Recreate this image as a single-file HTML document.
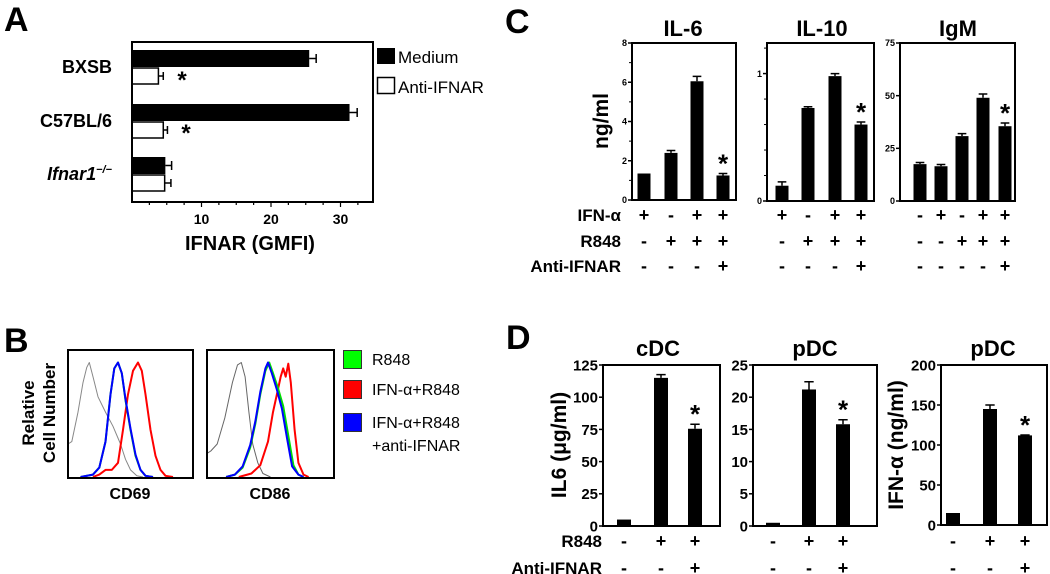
<!DOCTYPE html>
<html><head><meta charset="utf-8">
<style>
html,body{margin:0;padding:0;background:#fff;}
svg{display:block;font-family:"Liberation Sans",Arial,sans-serif;}
</style></head>
<body>
<svg id="fig" width="1050" height="574" viewBox="0 0 1050 574" xmlns="http://www.w3.org/2000/svg">
<g font-weight="bold" font-size="34">
<text x="4" y="31">A</text>
<text x="4" y="352">B</text>
<text x="505" y="33">C</text>
<text x="506" y="349">D</text>
</g>
</svg>
<script>
// ---------- Panel A data ----------
const aCategories = ["BXSB", "C57BL/6", "Ifnar1"];
const aMedium = [25.5, 31.3, 4.8];
const aMediumErr = [1.0, 1.1, 0.9];
const aAnti = [3.8, 4.5, 4.7];
const aAntiErr = [0.7, 0.6, 0.9];
const aTicks = [10, 20, 30];
// ---------- Panel B data (normalized x %, y %) ----------
const bGrey1 = [[0,0],[0,28],[3,30],[8,55],[12,80],[15,93],[17,97],[20,85],[24,68],[30,55],[36,43],[42,28],[46,15],[50,6],[55,1],[60,0]];
const bGreen1 = [[10,0],[20,2],[25,8],[30,30],[34,70],[37,92],[40,97],[43,88],[46,65],[50,40],[54,18],[58,6],[62,1],[68,0]];
const bBlue1 = [[10,0],[20,2],[25,8],[30,30],[34,70],[37,92],[40,97],[43,88],[46,66],[50,41],[54,19],[58,6],[62,1],[68,0]];
const bRed1 = [[20,0],[25,2],[30,6],[35,6],[40,12],[44,40],[48,70],[52,90],[56,97],[59,90],[62,70],[66,40],[70,18],[74,6],[78,1],[84,0]];
const bGrey2 = [[0,0],[0,20],[3,22],[8,28],[14,50],[20,80],[24,95],[27,97],[30,85],[33,55],[36,28],[40,12],[44,3],[50,0]];
const bGreen2 = [[15,0],[22,2],[28,8],[34,25],[38,45],[42,70],[46,90],[49,97],[52,88],[56,75],[60,60],[64,35],[68,10],[72,2],[76,0]];
const bBlue2 = [[15,0],[22,2],[28,9],[34,27],[38,47],[42,72],[46,92],[48,97],[51,88],[55,74],[59,58],[63,33],[67,9],[72,2],[76,0]];
const bRed2 = [[25,0],[35,3],[42,10],[48,30],[52,55],[55,70],[58,85],[60,92],[62,85],[64,96],[66,80],[69,40],[72,12],[76,2],[80,0]];
// ---------- Panel C data ----------
const cIL6 = [1.35, 2.4, 6.05, 1.25];
const cIL6Err = [0, 0.12, 0.25, 0.1];
const cIL6Ticks = [0, 2, 4, 6, 8];
const cIL10 = [0.12, 0.73, 0.98, 0.6];
const cIL10Err = [0.03, 0.01, 0.02, 0.02];
const cIL10Ticks = [0, 1];
const cIgM = [17.5, 16.5, 30.8, 49, 35.5];
const cIgMErr = [0.8, 0.8, 1.2, 1.8, 1.5];
const cIgMTicks = [0, 25, 50, 75];
// ---------- Panel D data ----------
const dCDC = [5, 115, 75.5];
const dCDCErr = [0, 2.5, 3.5];
const dCDCTicks = [0, 25, 50, 75, 100, 125];
const dPDC = [0.5, 21.2, 15.8];
const dPDCErr = [0, 1.2, 0.7];
const dPDCTicks = [0, 5, 10, 15, 20, 25];
const dIFN = [15, 145, 112];
const dIFNErr = [0, 5, 0.5];
const dIFNTicks = [0, 50, 100, 150, 200];

const NS = "http://www.w3.org/2000/svg";
const svg = document.getElementById("fig");
function mk(tag, attrs, parent, txt) {
  const e = document.createElementNS(NS, tag);
  for (const k in attrs) e.setAttribute(k, attrs[k]);
  if (txt !== undefined) e.textContent = txt;
  (parent || svg).appendChild(e);
  return e;
}

// ===== Panel A =====
(function(){
  const g = mk("g", {});
  
  
  const x0 = 132, x1 = 373, y0 = 42, y1 = 202;
  const sx = v => x0 + v * 6.95;
  const groupTop = [50, 104, 157];
  const bh = 17;
  aCategories.forEach((c, i) => {
    const yt = groupTop[i];
    const m = mk("rect", {x: x0, y: yt, width: sx(aMedium[i]) - x0, height: bh, fill: "#000"}, g);
    
    
    const ex = sx(aMedium[i] + aMediumErr[i]);
    mk("path", {d: `M${sx(aMedium[i])},${yt+bh/2}H${ex}M${ex},${yt+4}V${yt+bh-4}`, stroke: "#000", "stroke-width": 1.5, fill: "none"}, g);
    const a = mk("rect", {x: x0, y: yt + bh + 1, width: sx(aAnti[i]) - x0, height: bh - 1, fill: "#fff", stroke: "#000", "stroke-width": 1.5}, g);
    
    
    const ex2 = sx(aAnti[i] + aAntiErr[i]);
    const yc = yt + bh + 1 + (bh - 1) / 2;
    mk("path", {d: `M${sx(aAnti[i])},${yc}H${ex2}M${ex2},${yc-4}V${yc+4}`, stroke: "#000", "stroke-width": 1.5, fill: "none"}, g);
    const lbl = mk("text", {x: 112, y: yt + bh + 6, "text-anchor": "end", "font-size": 18, "font-weight": "bold"}, g);
    if (i === 2) {
      lbl.setAttribute("font-style", "italic");
      lbl.textContent = "Ifnar1";
      mk("tspan", {"font-size": 11, dy: -7}, lbl, "\u2212/\u2212");
    } else lbl.textContent = c;
    
    
  });
  mk("rect", {x: x0, y: y0, width: x1 - x0, height: y1 - y0, fill: "none", stroke: "#000", "stroke-width": 2}, g);
  for (let v = 2.5; v < 35; v += 2.5) {
    mk("line", {x1: sx(v), x2: sx(v), y1: y1, y2: y1 + (v % 10 === 0 ? 5 : 3), stroke: "#000", "stroke-width": 1.2}, g);
  }
  aTicks.forEach(t => {
    const tx = mk("text", {x: sx(t), y: 224, "text-anchor": "middle", "font-size": 14, "font-weight": "bold"}, g, String(t));
    
    
  });
  const xt = mk("text", {x: 250, y: 250, "text-anchor": "middle", "font-size": 20, "font-weight": "bold"}, g, "IFNAR (GMFI)");
  
  
  [[182, 88], [186, 141]].forEach(p => mk("text", {x: p[0], y: p[1], "text-anchor": "middle", "font-size": 24, "font-weight": "bold"}, g, "*"));
  const l1 = mk("rect", {x: 377, y: 48, width: 18, height: 16, fill: "#000"}, g);
  
  
  const l2 = mk("rect", {x: 377.5, y: 77.5, width: 17, height: 16, fill: "#fff", stroke: "#000", "stroke-width": 1.5}, g);
  
  
  const t1 = mk("text", {x: 398, y: 63, "font-size": 17}, g, "Medium");
  
  
  const t2 = mk("text", {x: 398, y: 93, "font-size": 17}, g, "Anti-IFNAR");
  
  
})();

// ===== Panel B =====
(function(){
  const g = mk("g", {});
  
  
  function hist(bx, by, bw, bh, curves, name) {
    const cg = mk("g", {}, g);
    
    
    curves.forEach(([pts, col, w]) => {
      const d = pts.map((p, i) => (i ? "L" : "M") + (bx + p[0] / 100 * bw).toFixed(1) + "," + (by + bh - 1 - p[1] / 100 * (bh - 10)).toFixed(1)).join("");
      const pth = mk("path", {d: d, fill: "none", stroke: col, "stroke-width": w, "stroke-linejoin": "round"}, cg);
      
      
    });
    mk("rect", {x: bx, y: by, width: bw, height: bh, fill: "none", stroke: "#000", "stroke-width": 2}, cg);
  }
  hist(68, 350, 125, 128, [[bGrey1, "#888", 1], [bRed1, "#f00", 2], [bGreen1, "#0c0", 2], [bBlue1, "#00f", 2]], "cd69-histogram");
  hist(207, 350, 127, 128, [[bGrey2, "#666", 1], [bRed2, "#f00", 2], [bGreen2, "#0d0", 2], [bBlue2, "#00f", 2]], "cd86-histogram");
  const y1 = mk("text", {transform: "translate(34,413) rotate(-90)", "text-anchor": "middle", "font-size": 17, "font-weight": "bold"}, g, "Relative");
  
  
  mk("text", {transform: "translate(55,413) rotate(-90)", "text-anchor": "middle", "font-size": 17, "font-weight": "bold"}, g, "Cell Number");
  const c1 = mk("text", {x: 130, y: 499, "text-anchor": "middle", "font-size": 16, "font-weight": "bold"}, g, "CD69");
  
  
  const c2 = mk("text", {x: 270, y: 499, "text-anchor": "middle", "font-size": 16, "font-weight": "bold"}, g, "CD86");
  
  
  [["#0f0", 350, "R848", null], ["#f00", 380, "IFN-\u03b1+R848", null], ["#00f", 413, "IFN-\u03b1+R848", "+anti-IFNAR"]].forEach(([col, y, t, t2], i) => {
    const s = mk("rect", {x: 343.5, y: y + 0.5, width: 18, height: 18, fill: col, stroke: "#333", "stroke-width": 1}, g);
    
    
    const tx = mk("text", {x: 372, y: y + 15, "font-size": 16}, g, t);
    
    
    if (t2) mk("text", {x: 372, y: y + 38, "font-size": 16}, g, t2);
  });
})();

// ===== Bar panel helper (C, D) =====
function barPanel(o) {
  const g = mk("g", {});
  
  
  const sy = v => o.y1 - (v / o.max) * (o.y1 - o.y0);
  o.vals.forEach((v, i) => {
    const cx = o.xs[i];
    const r = mk("rect", {x: cx - o.bw / 2, y: sy(v), width: o.bw, height: o.y1 - sy(v), fill: "#000"}, g);
    
    
    if (o.err[i] > 0) {
      const ey = sy(v + o.err[i]);
      mk("path", {d: `M${cx},${sy(v)}V${ey}M${cx - o.bw / 3},${ey}H${cx + o.bw / 3}`, stroke: "#000", "stroke-width": 1.5, fill: "none"}, g);
    }
  });
  mk("rect", {x: o.x0, y: o.y0, width: o.x1 - o.x0, height: o.y1 - o.y0, fill: "none", stroke: "#000", "stroke-width": 2}, g);
  (o.minor || []).forEach(t => mk("line", {x1: o.x0 - 3, x2: o.x0, y1: sy(t), y2: sy(t), stroke: "#000", "stroke-width": 1}, g));
  o.ticks.forEach(t => {
    mk("line", {x1: o.x0 - 4, x2: o.x0, y1: sy(t), y2: sy(t), stroke: "#000", "stroke-width": 1.5}, g);
    const tl = mk("text", {x: o.x0 - 5, y: sy(t) + o.tfs * 0.36, "text-anchor": "end", "font-size": o.tfs, "font-weight": "bold"}, g, String(t));
    
    
  });
  const tt = mk("text", {x: o.tx, y: o.ty, "text-anchor": "middle", "font-size": 22, "font-weight": "bold"}, g, o.title);
  
  
  if (o.ylabel) {
    const yl = mk("text", {transform: `translate(${o.ylx},${o.yly}) rotate(-90)`, "text-anchor": "middle", "font-size": o.ylfs || 20, "font-weight": "bold"}, g, o.ylabel);
    
    
  }
  const si = o.star;
  const st = mk("text", {x: o.xs[si], y: sy(o.vals[si] + o.err[si]) - 1, "text-anchor": "middle", "font-size": 26, "font-weight": "bold"}, g, "*");
  
  
  o.rows.forEach((row, r) => {
    row.forEach((s, i) => {
      const st = mk("text", {x: o.xs[i], y: o.rowY[r] + 6, "text-anchor": "middle", "font-size": 18, "font-weight": "bold"}, g, s);
      
      
    });
  });
}

// Panel C
const cRows = [215, 241, 266];
barPanel({name: "il6-chart", vals: cIL6, err: cIL6Err, ticks: cIL6Ticks, minor: [1,3,5,7], max: 8, x0: 632, x1: 736, y0: 43, y1: 200, xs: [644, 671, 697, 723], bw: 13, tfs: 9, title: "IL-6", tx: 683, ty: 36, ylabel: "ng/ml", ylx: 608, yly: 121, ylfs: 21, star: 3,
  rows: [["+","-","+","+"],["-","+","+","+"],["-","-","-","+"]], rowY: cRows});
barPanel({name: "il10-chart", vals: cIL10, err: cIL10Err, ticks: cIL10Ticks, minor: [0.2,0.4,0.6,0.8,1.2], max: 1.24, x0: 767, x1: 874, y0: 43, y1: 201, xs: [782, 808, 835, 861], bw: 13, tfs: 9, title: "IL-10", tx: 822, ty: 36, star: 3,
  rows: [["+","-","+","+"],["-","+","+","+"],["-","-","-","+"]], rowY: cRows});
barPanel({name: "igm-chart", vals: cIgM, err: cIgMErr, ticks: cIgMTicks, max: 75, x0: 900, x1: 1015, y0: 43, y1: 201, xs: [920, 941, 962, 983, 1005], bw: 13, tfs: 9, title: "IgM", tx: 958, ty: 36, star: 4,
  rows: [["-","+","-","+","+"],["-","-","+","+","+"],["-","-","-","-","+"]], rowY: cRows});
[["IFN-\u03b1", 215], ["R848", 241], ["Anti-IFNAR", 266]].forEach(([t, y]) => {
  const e = mk("text", {x: 621, y: y + 6, "text-anchor": "end", "font-size": 17, "font-weight": "bold"}, svg, t);
  
  
});

// Panel D
const dRows = [541, 568];
const dSigns = [["-","+","+"],["-","-","+"]];
barPanel({name: "cdc-il6-chart", vals: dCDC, err: dCDCErr, ticks: dCDCTicks, max: 125, x0: 603, x1: 720, y0: 365, y1: 526, xs: [624, 661, 695], bw: 14, tfs: 15, title: "cDC", tx: 658, ty: 356, ylabel: "IL6 (\u03bcg/ml)", ylx: 566, yly: 445, ylfs: 21, star: 2, rows: dSigns, rowY: dRows});
barPanel({name: "pdc-il6-chart", vals: dPDC, err: dPDCErr, ticks: dPDCTicks, max: 25, x0: 753, x1: 877, y0: 365, y1: 526, xs: [773, 809, 843], bw: 14, tfs: 15, title: "pDC", tx: 815, ty: 356, star: 2, rows: dSigns, rowY: dRows});
barPanel({name: "pdc-ifna-chart", vals: dIFN, err: dIFNErr, ticks: dIFNTicks, max: 200, x0: 941, x1: 1047, y0: 365, y1: 525, xs: [953, 990, 1025], bw: 14, tfs: 15, title: "pDC", tx: 993, ty: 356, ylabel: "IFN-\u03b1 (ng/ml)", ylx: 903, yly: 445, ylfs: 21, star: 2, rows: dSigns, rowY: dRows});
[["R848", 541], ["Anti-IFNAR", 568]].forEach(([t, y]) => {
  const e = mk("text", {x: 602, y: y + 6, "text-anchor": "end", "font-size": 17, "font-weight": "bold"}, svg, t);
  
  
});
</script>
</body></html>
